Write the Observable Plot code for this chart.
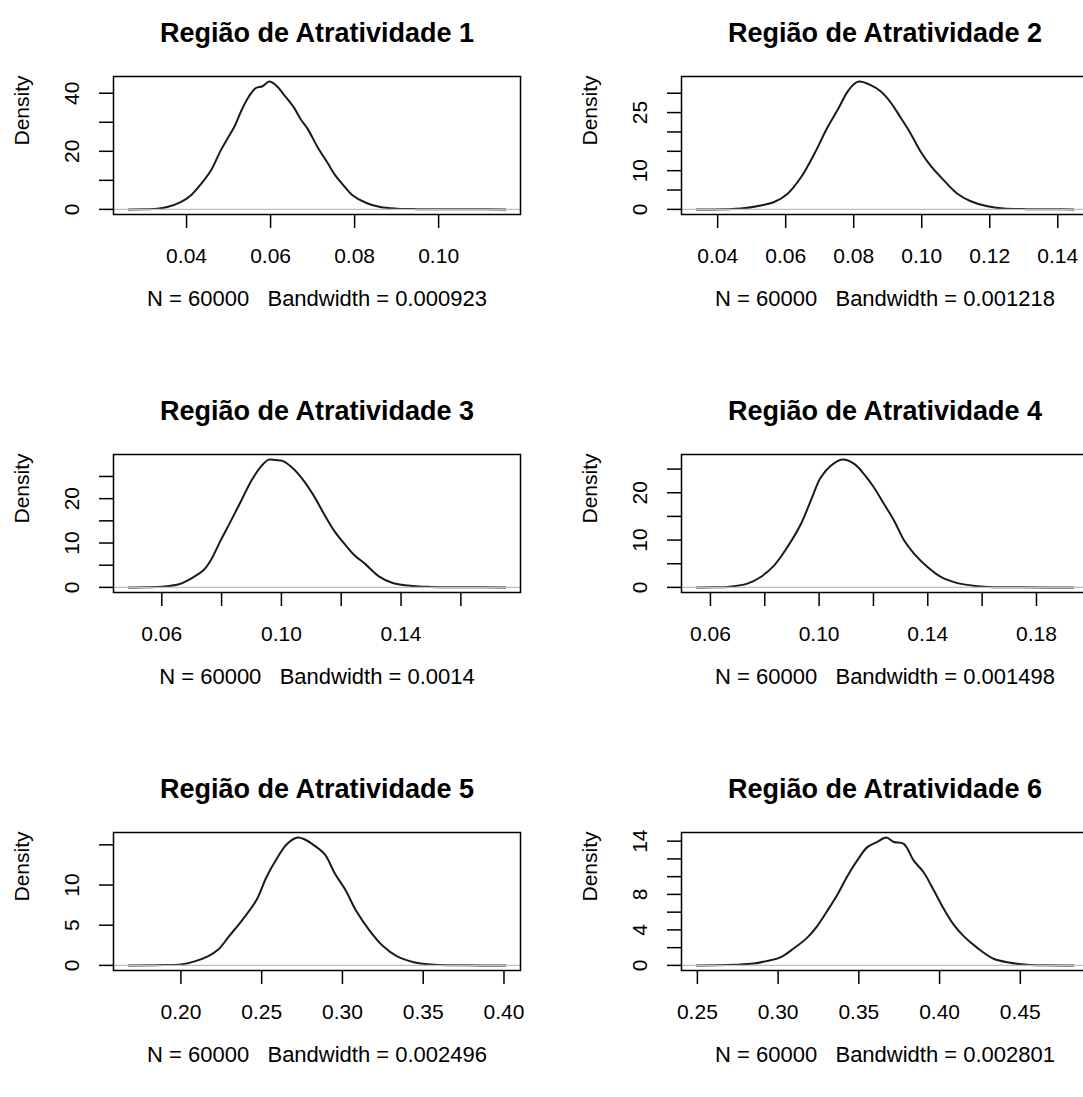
<!DOCTYPE html>
<html><head><meta charset="utf-8">
<script src="https://cdn.jsdelivr.net/npm/d3@7"></script>
<script src="https://cdn.jsdelivr.net/npm/@observablehq/plot@0.6"></script>
<style>
html,body{margin:0;padding:0;background:#fff;overflow:hidden;}
#wrap{position:relative;width:1083px;height:1097px;overflow:hidden;background:#fff;}
</style></head><body><div id="wrap"></div>
<script>
const titles = ["Região de Atratividade 1","Região de Atratividade 2","Região de Atratividade 3","Região de Atratividade 4","Região de Atratividade 5","Região de Atratividade 6"];
const sampleSizes = [60000, 60000, 60000, 60000, 60000, 60000];
const bandwidths = ["0.000923","0.001218","0.0014","0.001498","0.002496","0.002801"];

const x1 = [0.0262,0.0300,0.0330,0.0354,0.0386,0.0410,0.0433,0.0458,0.0482,0.0500,0.0515,0.0532,0.0548,0.0565,0.0581,0.0597,0.0614,0.0630,0.0655,0.0671,0.0688,0.0712,0.0737,0.0754,0.0770,0.0795,0.0828,0.0861,0.0902,0.0950,0.1000,0.1080,0.1159];
const y1 = [0,0.05,0.2,0.8,2.5,4.8,8.5,13.4,20.5,25,28.8,34.5,38.8,41.8,42.4,44.0,42.6,39.8,35.2,31.2,27.8,21.4,15.7,11.7,8.9,4.9,2.2,0.8,0.25,0.08,0.03,0.01,0];
const x2 = [0.0338,0.0420,0.0468,0.0527,0.0566,0.0605,0.0645,0.0684,0.0723,0.0752,0.0782,0.0801,0.0816,0.0850,0.0879,0.0909,0.0938,0.0968,0.0997,0.1026,0.1065,0.1104,0.1144,0.1193,0.1241,0.1310,0.1400,0.1446];
const y2 = [0,0.05,0.2,1.0,1.9,4.0,8.3,14.3,21.2,25.6,30.4,32.4,33.0,32.1,30.5,27.6,23.7,19.5,14.9,11.3,7.5,4.1,2.1,0.8,0.25,0.05,0.01,0];
const x3 = [0.0489,0.0550,0.0600,0.0660,0.0706,0.0740,0.0763,0.0797,0.0832,0.0866,0.0901,0.0935,0.0958,0.0980,0.1004,0.1039,0.1073,0.1107,0.1142,0.1176,0.1211,0.1245,0.1280,0.1326,0.1372,0.1440,0.1500,0.1600,0.1749];
const y3 = [0,0.02,0.15,0.75,2.3,3.9,6.0,10.6,15.1,19.6,24.2,27.5,28.8,28.7,28.5,26.8,24.2,20.8,16.6,12.8,9.8,7.2,5.3,2.5,1.0,0.3,0.1,0.02,0];
const x4 = [0.0549,0.0620,0.0663,0.0736,0.0785,0.0834,0.0883,0.0933,0.0969,0.1006,0.1043,0.1086,0.1129,0.1166,0.1202,0.1239,0.1276,0.1313,0.1350,0.1399,0.1448,0.1509,0.1583,0.1644,0.1750,0.1936];
const y4 = [0,0.02,0.1,0.8,2.2,4.6,8.5,13.4,18.3,23.2,25.7,27.0,26.1,23.9,21.1,17.6,14.1,9.9,7.1,4.3,2.2,0.9,0.25,0.05,0.01,0];
const x5 = [0.1676,0.1900,0.2000,0.2085,0.2170,0.2233,0.2297,0.2382,0.2467,0.2530,0.2594,0.2657,0.2721,0.2764,0.2827,0.2891,0.2954,0.3018,0.3082,0.3166,0.3251,0.3336,0.3442,0.3570,0.3760,0.4009];
const y5 = [0,0.05,0.12,0.5,1.15,2.0,3.6,5.7,8.1,11.0,13.3,15.1,15.9,15.7,14.9,13.8,11.4,9.4,6.9,4.4,2.4,1.15,0.4,0.08,0.01,0];
const x6 = [0.2495,0.2725,0.2849,0.2931,0.3014,0.3096,0.3179,0.3241,0.3303,0.3365,0.3427,0.3489,0.3551,0.3612,0.3670,0.3716,0.3778,0.3840,0.3901,0.3963,0.4025,0.4087,0.4149,0.4232,0.4335,0.4438,0.4541,0.4645,0.4829];
const y6 = [0,0.07,0.2,0.5,0.9,1.9,3.1,4.4,6.1,7.9,10.0,11.8,13.3,13.9,14.4,13.9,13.7,11.8,10.5,8.5,6.4,4.6,3.3,2.0,0.75,0.3,0.07,0.01,0];

const xTicks1 = [0.04,0.06,0.08,0.10];            const xLabels1 = ["0.04","0.06","0.08","0.10"];
const xTicks2 = [0.04,0.06,0.08,0.10,0.12,0.14];  const xLabels2 = ["0.04","0.06","0.08","0.10","0.12","0.14"];
const xTicks3 = [0.06,0.08,0.10,0.12,0.14,0.16];  const xLabels3 = ["0.06","","0.10","","0.14",""];
const xTicks4 = [0.06,0.08,0.10,0.12,0.14,0.16,0.18]; const xLabels4 = ["0.06","","0.10","","0.14","","0.18"];
const xTicks5 = [0.20,0.25,0.30,0.35,0.40];       const xLabels5 = ["0.20","0.25","0.30","0.35","0.40"];
const xTicks6 = [0.25,0.30,0.35,0.40,0.45];       const xLabels6 = ["0.25","0.30","0.35","0.40","0.45"];
const yTicks1 = [0,10,20,30,40];          const yLabels1 = ["0","","20","","40"];
const yTicks2 = [0,5,10,15,20,25,30];     const yLabels2 = ["0","","10","","","25",""];
const yTicks3 = [0,5,10,15,20,25];        const yLabels3 = ["0","","10","","20",""];
const yTicks4 = [0,5,10,15,20,25];        const yLabels4 = ["0","","10","","20",""];
const yTicks5 = [0,5,10,15];              const yLabels5 = ["0","5","10",""];
const yTicks6 = [0,2,4,6,8,10,12,14];     const yLabels6 = ["0","","4","","8","","","14"];
const yAxisLabel = "Density";

const panels = [
  {xs:x1, ys:y1, xt:xTicks1, xl:xLabels1, yt:yTicks1, yl:yLabels1},
  {xs:x2, ys:y2, xt:xTicks2, xl:xLabels2, yt:yTicks2, yl:yLabels2},
  {xs:x3, ys:y3, xt:xTicks3, xl:xLabels3, yt:yTicks3, yl:yLabels3},
  {xs:x4, ys:y4, xt:xTicks4, xl:xLabels4, yt:yTicks4, yl:yLabels4},
  {xs:x5, ys:y5, xt:xTicks5, xl:xLabels5, yt:yTicks5, yl:yLabels5},
  {xs:x6, ys:y6, xt:xTicks6, xl:xLabels6, yt:yTicks6, yl:yLabels6}
];

const FONT = "'Liberation Sans', Arial, Helvetica, sans-serif";
const wrap = document.getElementById("wrap");

panels.forEach((p, i) => {
  const col = i % 2, row = Math.floor(i / 2);
  const data = p.xs.map((x, k) => ({x, y: p.ys[k]}));
  const [xa, xb] = d3.extent(p.xs);
  const padX = 0.04 * (xb - xa);
  const ymax = d3.max(p.ys);
  const padY = 0.04 * ymax;
  const xMap = new Map(p.xt.map((t, k) => [t, p.xl[k]]));
  const yLab = p.yt.map((t, k) => ({t, s: p.yl[k]})).filter(d => d.s !== "");
  const caption = `N = ${sampleSizes[i]}   Bandwidth = ${bandwidths[i]}`.replace(/ /g, "\u00a0");
  const svg = Plot.plot({
    width: 560, height: 378,
    marginLeft: 113, marginRight: 40, marginTop: 76, marginBottom: 164,
    style: {fontFamily: FONT, fontSize: "21px", color: "#000", background: "transparent"},
    x: {domain: [xa - padX, xb + padX], label: null},
    y: {domain: [-padY, ymax + padY], label: null},
    marks: [
      Plot.line(data, {x: "x", y: "y", stroke: "#1a1a1a", strokeWidth: 2, curve: "catmull-rom"}),
      Plot.ruleY([0], {stroke: "#bebebe", strokeWidth: 1.2}),
      Plot.frame({stroke: "#000", strokeWidth: 1.5}),
      Plot.axisX(p.xt, {tickSize: 14, tickPadding: 20, strokeWidth: 1.5, label: null, tickFormat: d => xMap.get(d), fontSize: 21}),
      Plot.axisY(p.yt, {tickSize: 14, strokeWidth: 1.5, label: null, tickFormat: () => ""}),
      Plot.text(yLab, {y: "t", text: "s", frameAnchor: "left", dx: -41, rotate: -90, lineAnchor: "middle", textAnchor: "middle", fontSize: 21}),
      Plot.text([yAxisLabel], {frameAnchor: "left", dx: -91, rotate: -90, lineAnchor: "middle", fontSize: 21}),
      Plot.text([titles[i]], {frameAnchor: "top", dy: -43, lineAnchor: "middle", fontWeight: "bold", fontSize: 27}),
      Plot.text([caption], {frameAnchor: "bottom", dy: 76, lineAnchor: "top", fontSize: 22})
    ]
  });
  svg.style.position = "absolute";
  svg.style.left = (col ? 568 : 0) + "px";
  svg.style.top = (row * 378) + "px";
  svg.style.overflow = "visible";
  wrap.appendChild(svg);
});
</script></body></html>
